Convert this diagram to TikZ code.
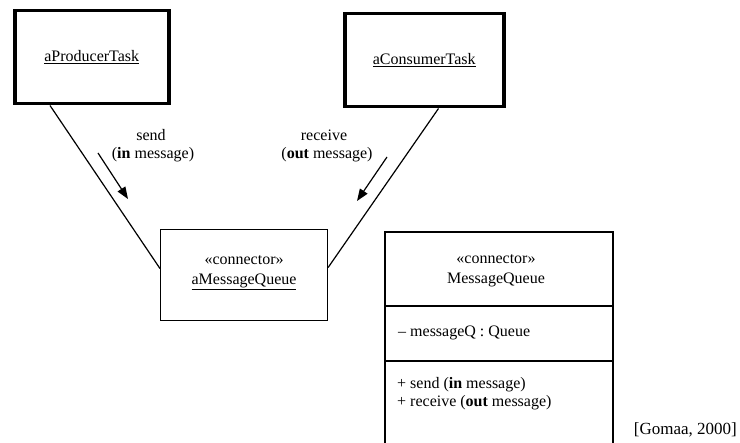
\documentclass[tikz,border=0pt]{standalone}
\usepackage{fontspec}
\setmainfont{Liberation Serif}
\usetikzlibrary{arrows.meta,calc}

\begin{document}
\begin{tikzpicture}[x=1pt,y=-1pt,
  every node/.style={font=\fontsize{16}{18}\selectfont},
  taskbox/.style={draw,line width=3.5pt,rectangle,inner sep=0pt,anchor=north west},
  objbox/.style={draw,line width=1.1pt,rectangle,inner sep=0pt,anchor=north west},
  link/.style={line width=1.2pt},
  msgarrow/.style={line width=1.2pt,-{Triangle[length=12pt,width=9pt]}},
  lbl/.style={align=center,inner sep=0pt}]
  \useasboundingbox (0,0) rectangle (740,443);

  % active objects (tasks)
  \node[taskbox,minimum width=154pt,minimum height=93pt] (prod) at (13,9) {};
  \node at (prod.center) {\underline{aProducerTask}};
  \node[taskbox,minimum width=159pt,minimum height=93pt] (cons) at (343,12) {};
  \node at (cons.center) {\underline{aConsumerTask}};

  % connector object
  \node[objbox,minimum width=167pt,minimum height=91pt] (mq) at (160,229) {};
  \node[lbl] (mqtext) at ($(mq.center)+(0,-2)$) {«connector»\\[2pt]\underline{aMessageQueue}};

  % links between the tasks and the connector
  \draw[link] ([xshift=37pt]prod.south west) -- ([yshift=6.5pt]mq.west);
  \draw[link] ([xshift=-67pt]cons.south east) -- ([yshift=7.5pt]mq.east);

  % messages
  \node[lbl] (sendl) at (151,135) {send};
  \node[lbl] (sendp) at (153,155) {(\textbf{in} message)};
  \node[lbl] (recvl) at (324,135) {receive};
  \node[lbl] (recvp) at (327,155) {(\textbf{out} message)};
  \coordinate (sa) at (98,153);
  \coordinate (sb) at (128,199);
  \coordinate (ra) at (387,157);
  \coordinate (rb) at (357,201);
  \draw[msgarrow] (sa) -- (sb);
  \draw[msgarrow] (ra) -- (rb);

  % connector class with its compartments
  \draw[line width=1.1pt] (385,445) -- (385,232) -- (613,232) -- (613,445);
  \draw[line width=1.1pt] (385,306) -- (613,306);
  \draw[line width=1.1pt] (385,361) -- (613,361);
  \node[lbl] (cname) at (496,271) {«connector»\\[2pt]MessageQueue};
  \node[anchor=west,inner sep=0pt] (cattr) at (398,333) {\textendash\ messageQ : Queue};
  \node[anchor=north west,inner sep=0pt,align=left] (cops) at (397,377)
    {+ send (\textbf{in} message)\\+ receive (\textbf{out} message)};

  % citation
  \node[anchor=east,inner sep=0pt,font=\fontsize{17}{19}\selectfont] (cite) at (737,430) {[Gomaa, 2000]};
\end{tikzpicture}
\end{document}
